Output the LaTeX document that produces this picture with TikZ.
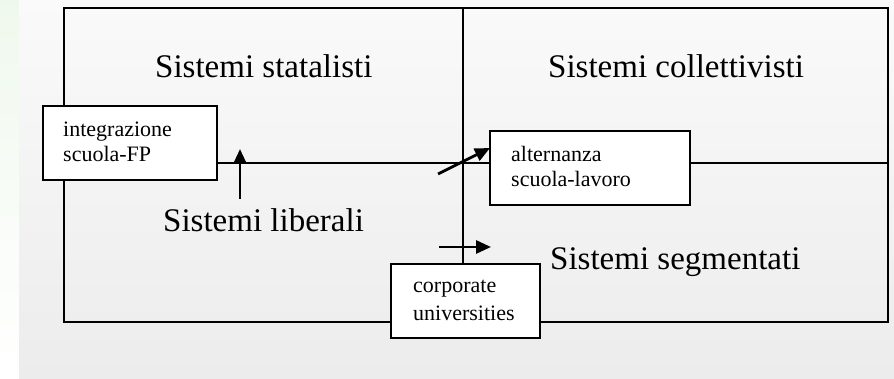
\documentclass[tikz,border=0pt]{standalone}
\usepackage{fontspec}
\setmainfont{Liberation Serif}
\usetikzlibrary{arrows.meta}
\definecolor{bgtop}{HTML}{FAFAFA}
\definecolor{bgbot}{HTML}{ECECEC}
\definecolor{leaf}{HTML}{E6F4E2}
\tikzset{
  frame/.style={line width=2.8pt, draw=black},
  smallbox/.style={draw=black, line width=2.4pt, fill=white, inner sep=0pt, anchor=north west},
  smalltext/.style={font=\fontsize{22}{25}\selectfont, align=left, anchor=base west, inner sep=0pt},
  bigtext/.style={font=\fontsize{33}{38}\selectfont, anchor=base west, inner sep=0pt},
  arr/.style={line width=2.8pt, -{Triangle[length=15pt,width=13pt]}}
}
\begin{document}
\begin{tikzpicture}[x=1pt,y=-1pt]
\useasboundingbox (0,0) rectangle (894,379);
% background
\fill[white] (0,0) rectangle (894,379);
\shade[top color=leaf!60, bottom color=white] (0,0) rectangle (19,379);
\shade[top color=bgtop, bottom color=bgbot] (19,0) rectangle (894,379);
% frame coordinates
\coordinate (TL) at (64,8);
\coordinate (BR) at (888,322);
\coordinate (VT) at (463,8);
\coordinate (VB) at (463,322);
\coordinate (HL) at (64,163);
\coordinate (HR) at (888,163);
\draw[frame] (TL) rectangle (BR);
\draw[frame] (VT) -- (VB);
\draw[frame] (HL) -- (HR);
% boxes
\node[smallbox, minimum width=174pt, minimum height=74pt] (integ) at (42,105) {};
\node[smallbox, minimum width=200pt, minimum height=74pt] (alt) at (489,130) {};
\node[smallbox, minimum width=149pt, minimum height=74pt] (corp) at (390,263) {};
\node[smalltext] (t1) at (63,137) {integrazione};
\node[smalltext] (t2) at (63,162) {scuola-FP};
\node[smalltext] (t3) at (511,162) {alternanza};
\node[smalltext] (t4) at (511,187) {scuola-lavoro};
\node[smalltext] (t5) at (413,293) {corporate};
\node[smalltext] (t6) at (413,320) {universities};
% big labels
\node[bigtext] (stat) at (155,78) {Sistemi statalisti};
\node[bigtext] (coll) at (548,78) {Sistemi collettivisti};
\node[bigtext] (lib) at (163,232) {Sistemi liberali};
\node[bigtext] (seg) at (550,270) {Sistemi segmentati};
% arrows
\coordinate (a1s) at (240,199);
\coordinate (a1e) at (240,149);
\coordinate (a2s) at (438,174);
\coordinate (a2e) at (490,148);
\coordinate (a3s) at (439,247);
\coordinate (a3e) at (491,247);
\draw[arr] (a1s) -- (a1e);
\draw[arr] (a2s) -- (a2e);
\draw[arr] (a3s) -- (a3e);
\end{tikzpicture}
\end{document}
